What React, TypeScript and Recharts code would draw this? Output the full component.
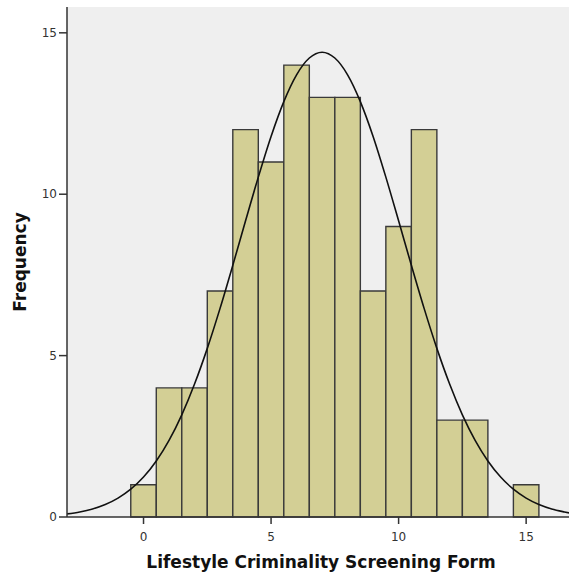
import React from 'react';
import {
  ComposedChart,
  XAxis,
  YAxis,
  Line,
  ReferenceArea,
  CartesianGrid,
  Label,
} from 'recharts';

// Score values (one bin per integer score) and their frequencies
const scores = [0, 1, 2, 3, 4, 5, 6, 7, 8, 9, 10, 11, 12, 13, 14, 15];
const frequencies = [1, 4, 4, 7, 12, 11, 14, 13, 13, 7, 9, 12, 3, 3, 0, 1];

// Fitted normal curve, sampled along the score axis
const curveX = [
  -3, -2.5, -2, -1.5, -1, -0.5, 0, 0.5, 1, 1.5, 2, 2.5, 3, 3.5, 4, 4.5, 5, 5.5, 6, 6.5,
  7, 7.5, 8, 8.5, 9, 9.5, 10, 10.5, 11, 11.5, 12, 12.5, 13, 13.5, 14, 14.5, 15, 15.5,
  16, 16.5, 16.7,
];
const curveY = [
  0.096, 0.157, 0.249, 0.386, 0.584, 0.861, 1.238, 1.736, 2.374, 3.166, 4.119, 5.224,
  6.463, 7.798, 9.176, 10.53, 11.79, 12.87, 13.7, 14.22, 14.4, 14.22, 13.7, 12.87,
  11.79, 10.53, 9.176, 7.798, 6.463, 5.224, 4.119, 3.166, 2.374, 1.736, 1.238, 0.861,
  0.584, 0.386, 0.249, 0.157, 0.125,
];

const xTicks = [0, 5, 10, 15];
const yTicks = [0, 5, 10, 15];

const bins = scores
  .map((s, i) => ({ x1: s - 0.5, x2: s + 0.5, count: frequencies[i] }))
  .filter((b) => b.count > 0);

const curve = curveX.map((x, i) => ({ x, y: curveY[i] }));

const tickStyle = { fontFamily: 'DejaVu Sans', fontSize: 12, fill: '#333' };
const titleStyle = {
  fontFamily: 'DejaVu Sans',
  fontSize: 17,
  fontWeight: 'bold' as const,
  fill: '#111',
};

export default function App() {
  return (
    <div style={{ position: 'absolute', left: 0, top: 0, background: '#fff' }}>
      <ComposedChart
        width={569}
        height={575}
        margin={{ top: 7, right: 0, bottom: 0, left: 0 }}
      >
        <CartesianGrid fill="#efefef" horizontal={false} vertical={false} />
        <XAxis
          xAxisId="top"
          orientation="top"
          type="number"
          domain={[-3, 16.68]}
          allowDataOverflow
          height={0}
          tick={false}
          tickLine={false}
          axisLine={{ stroke: '#444', strokeWidth: 1.5 }}
        />
        <XAxis
          dataKey="x"
          type="number"
          domain={[-3, 16.68]}
          allowDataOverflow
          ticks={xTicks}
          height={58}
          tickSize={7}
          tickMargin={8}
          tick={tickStyle}
          tickLine={{ stroke: '#333', strokeWidth: 1.5 }}
          axisLine={{ stroke: '#333', strokeWidth: 1.5 }}
        >
          <Label
            value="Lifestyle Criminality Screening Form"
            position="insideBottom"
            offset={7}
            dx={3}
            style={titleStyle}
          />
        </XAxis>
        <YAxis
          type="number"
          domain={[0, 15.8]}
          allowDataOverflow
          ticks={yTicks}
          width={67}
          tickSize={8}
          tickMargin={2}
          tick={tickStyle}
          tickLine={{ stroke: '#333', strokeWidth: 1.5 }}
          axisLine={{ stroke: '#333', strokeWidth: 1.5 }}
        >
          <Label
            value="Frequency"
            angle={-90}
            position="insideLeft"
            offset={20}
            style={{ ...titleStyle, textAnchor: 'middle' }}
          />
        </YAxis>
        {bins.map((b) => (
          <ReferenceArea
            key={b.x1}
            x1={b.x1}
            x2={b.x2}
            y1={0}
            y2={b.count}
            fill="#d3cf95"
            fillOpacity={1}
            stroke="#3a3a3a"
            strokeWidth={1.4}
            ifOverflow="visible"
          />
        ))}
        <Line
          data={curve}
          dataKey="y"
          type="monotone"
          stroke="#111"
          strokeWidth={1.6}
          dot={false}
          activeDot={false}
          isAnimationActive={false}
        />
      </ComposedChart>
    </div>
  );
}
